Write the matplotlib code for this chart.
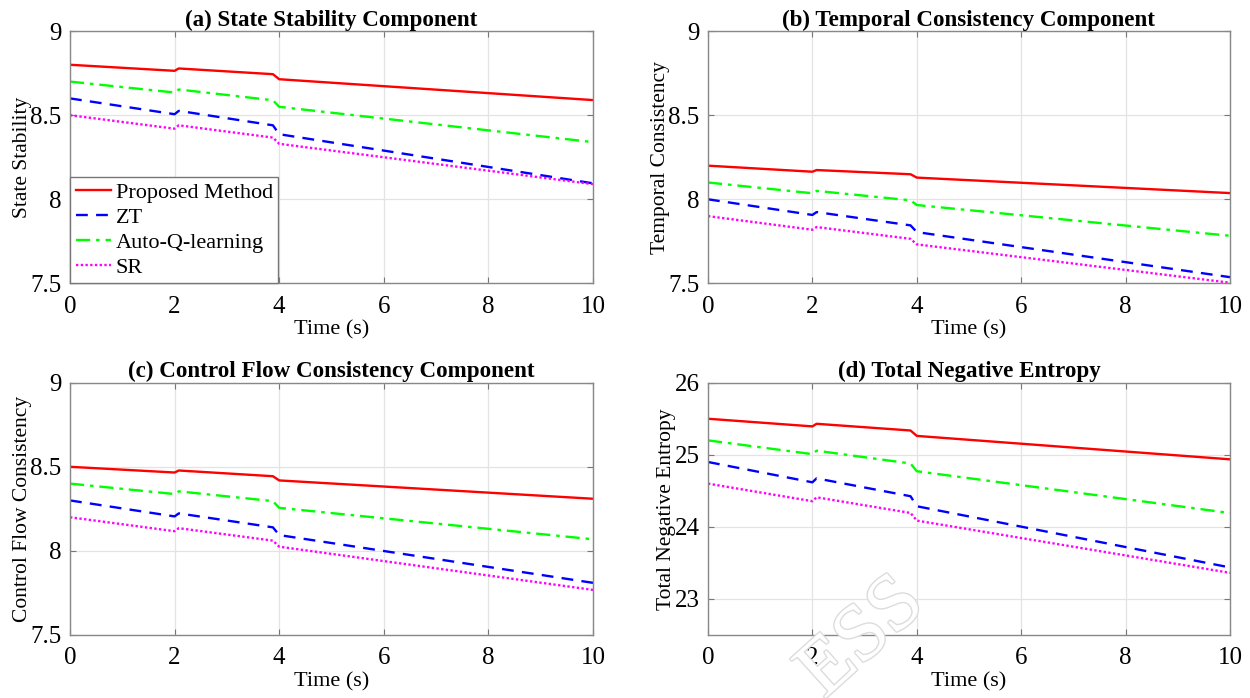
import matplotlib
matplotlib.use("Agg")
import matplotlib.pyplot as plt
import matplotlib.patheffects as pe

plt.rcParams['font.family'] = ['Liberation Serif', 'DejaVu Serif']
plt.rcParams['mathtext.fontset'] = 'stix'

# Time breakpoints (s)
time_s = [0, 2.0, 2.08, 3.88, 4.0, 10]

methods = ["Proposed Method", "ZT", "Auto-Q-learning", "SR"]

# (a) State Stability
state_pm = [8.80, 8.764, 8.778, 8.744, 8.714, 8.59]
state_zt = [8.60, 8.506, 8.526, 8.44, 8.387, 8.095]
state_aq = [8.70, 8.635, 8.653, 8.589, 8.55, 8.34]
state_sr = [8.50, 8.42, 8.44, 8.367, 8.33, 8.09]

# (b) Temporal Consistency
temp_pm = [8.20, 8.164, 8.174, 8.149, 8.129, 8.037]
temp_zt = [8.00, 7.907, 7.924, 7.845, 7.805, 7.537]
temp_aq = [8.10, 8.036, 8.05, 7.994, 7.966, 7.783]
temp_sr = [7.90, 7.819, 7.835, 7.765, 7.732, 7.504]

# (c) Control Flow Consistency
flow_pm = [8.50, 8.466, 8.478, 8.444, 8.419, 8.31]
flow_zt = [8.30, 8.205, 8.223, 8.14, 8.094, 7.81]
flow_aq = [8.40, 8.338, 8.354, 8.296, 8.256, 8.069]
flow_sr = [8.20, 8.117, 8.135, 8.061, 8.025, 7.768]

# (d) Total Negative Entropy
total_pm = [25.50, 25.394, 25.43, 25.337, 25.262, 24.937]
total_zt = [24.90, 24.618, 24.673, 24.425, 24.286, 23.437]
total_aq = [25.20, 25.009, 25.057, 24.879, 24.772, 24.192]
total_sr = [24.60, 24.356, 24.41, 24.193, 24.087, 23.362]

styles = [('#FF0000', '-'), ('#0000FF', (0, (5, 3.5))), ('#00FF00', (0, (6, 2.5, 1.5, 2.5))),
          ('#FF00FF', (0, (1, 1)))]

panels = [
    ("(a) State Stability Component", "State Stability",
     [state_pm, state_zt, state_aq, state_sr], (7.5, 9), [7.5, 8, 8.5, 9], ["7.5", "8", "8.5", "9"]),
    ("(b) Temporal Consistency Component", "Temporal Consistency",
     [temp_pm, temp_zt, temp_aq, temp_sr], (7.5, 9), [7.5, 8, 8.5, 9], ["7.5", "8", "8.5", "9"]),
    ("(c) Control Flow Consistency Component", "Control Flow Consistency",
     [flow_pm, flow_zt, flow_aq, flow_sr], (7.5, 9), [7.5, 8, 8.5, 9], ["7.5", "8", "8.5", "9"]),
    ("(d) Total Negative Entropy", "Total Negative Entropy",
     [total_pm, total_zt, total_aq, total_sr], (22.5, 26), [23, 24, 25, 26], ["23", "24", "25", "26"]),
]

# axes rectangles [left, bottom, width, height]
rects = [
    [0.056, 0.594, 0.4184, 0.3614],
    [0.5664, 0.594, 0.4176, 0.3614],
    [0.056, 0.0903, 0.4184, 0.3614],
    [0.5664, 0.0903, 0.4176, 0.3614],
]

fig = plt.figure(figsize=(12.5, 6.98), dpi=100)

for i, (title, ylabel, series, ylim, yticks, ylabels) in enumerate(panels):
    ax = fig.add_axes(rects[i])
    for name, vals, (c, ls) in zip(methods, series, styles):
        ax.plot(time_s, vals, color=c, linestyle=ls, linewidth=1.7, label=name)
    ax.set_xlim(0, 10)
    ax.set_ylim(*ylim)
    ax.set_xticks([0, 2, 4, 6, 8, 10])
    ax.set_yticks(yticks)
    ax.set_yticklabels(ylabels)
    ax.tick_params(direction='in', top=True, right=True, labelsize=18,
                   color='#777777', length=4)
    ax.tick_params(axis='x', pad=9)
    ax.tick_params(axis='y', pad=6)
    ax.grid(True, color='#e3e3e3', linewidth=0.9)
    ax.set_axisbelow(True)
    for sp in ax.spines.values():
        sp.set_color('#888888')
        sp.set_linewidth(1.0)
    ax.set_title(title, fontsize=16.6, fontweight='bold', pad=4)
    ax.set_xlabel("Time (s)", fontsize=16, labelpad=2)
    ax.set_ylabel(ylabel, fontsize=15.5, labelpad=-1)
    if i == 0:
        leg = ax.legend(loc='lower left', borderaxespad=0, fontsize=16,
                        handlelength=1.6, handletextpad=0.2, labelspacing=0.2,
                        borderpad=0.25, fancybox=False, framealpha=1)
        leg.get_frame().set_edgecolor('#777777')
        leg.get_frame().set_linewidth(1.0)

# faint watermark fragment
fig.text(0.69, 0.085, "ESS", rotation=42, fontsize=58, color='white',
         ha='center', va='center', zorder=10,
         path_effects=[pe.withStroke(linewidth=2, foreground='#dcdcdc')])

fig.savefig("out.png", dpi=100)
